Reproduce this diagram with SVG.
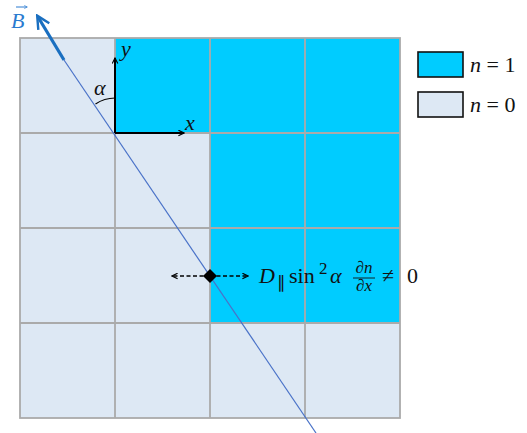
<svg xmlns="http://www.w3.org/2000/svg" width="527" height="433" viewBox="0 0 527 433">
<defs>
<style>
.c1{fill:#00ccff}
.c0{fill:#dde8f4}
.grid{stroke:#aaaaaa;stroke-width:1.8;fill:none}
.t{font-family:"Liberation Serif","Times New Roman",serif;font-size:22px;fill:#111}
.i{font-style:italic}
.s{font-size:17px}
.lg{stroke:#111;stroke-width:1.6}
</style>
<marker id="ah" viewBox="0 0 10 10" refX="9" refY="5" markerWidth="7" markerHeight="7" orient="auto" markerUnits="userSpaceOnUse"><path d="M1,1 L9,5 L1,9" fill="none" stroke="#000" stroke-width="1.6"/></marker>
<marker id="ahB" viewBox="0 0 10 10" refX="8" refY="5" markerWidth="5" markerHeight="5" orient="auto"><path d="M1,1 L9,5 L1,9" fill="none" stroke="#1a6fc0" stroke-width="1.5"/></marker>
<marker id="ahS" viewBox="0 0 10 10" refX="8" refY="5" markerWidth="4" markerHeight="4" orient="auto" markerUnits="userSpaceOnUse"><path d="M1,1 L9,5 L1,9" fill="none" stroke="#2a7bd0" stroke-width="1.5"/></marker>
</defs>
<rect width="527" height="433" fill="#fff"/>
<g id="cells">
<rect class="c0" x="20" y="38" width="95" height="95"/>
<rect class="c1" x="115" y="38" width="95" height="95"/>
<rect class="c1" x="210" y="38" width="95" height="95"/>
<rect class="c1" x="305" y="38" width="95" height="95"/>
<rect class="c0" x="20" y="133" width="95" height="95"/>
<rect class="c0" x="115" y="133" width="95" height="95"/>
<rect class="c1" x="210" y="133" width="95" height="95"/>
<rect class="c1" x="305" y="133" width="95" height="95"/>
<rect class="c0" x="20" y="228" width="95" height="95"/>
<rect class="c0" x="115" y="228" width="95" height="95"/>
<rect class="c1" x="210" y="228" width="95" height="95"/>
<rect class="c1" x="305" y="228" width="95" height="95"/>
<rect class="c0" x="20" y="323" width="380" height="95"/>
</g>
<g id="grid" class="grid">
<rect x="20" y="38" width="380" height="380"/>
<path d="M115,38V418M210,38V418M305,38V418M20,133H400M20,228H400M20,323H400"/>
</g>
<g id="connectors">
<line x1="64" y1="60" x2="316" y2="433" stroke="#4a72c8" stroke-width="1.2"/>
<line x1="64" y1="60" x2="38" y2="17" stroke="#1a6fc0" stroke-width="3.2" marker-end="url(#ahB)"/>
<line x1="115" y1="133" x2="115" y2="58" stroke="#000" stroke-width="2" marker-end="url(#ah)"/>
<line x1="115" y1="133" x2="184" y2="133" stroke="#000" stroke-width="2" marker-end="url(#ah)"/>
<path d="M115,98 A35,35 0 0 0 95.5,104" fill="none" stroke="#000" stroke-width="1.2"/>
<line x1="210" y1="276" x2="172" y2="276" stroke="#000" stroke-width="1.6" stroke-dasharray="4,2.5" marker-end="url(#ah)"/>
<line x1="210" y1="276" x2="248" y2="276" stroke="#000" stroke-width="1.6" stroke-dasharray="4,2.5" marker-end="url(#ah)"/>
<path d="M210,269 L217,276 L210,283 L203,276Z" fill="#000"/>
</g>
<g id="labels">
<text class="t i" x="11" y="28" style="fill:#2a7bd0">B</text>
<path d="M16,7 H27" stroke="#2a7bd0" stroke-width="1" marker-end="url(#ahS)"/>
<text class="t i" x="121" y="56">y</text>
<text class="t i" x="185" y="130">x</text>
<text class="t i" x="94" y="95">α</text>
<text class="t i" x="259" y="283">D</text>
<text class="t s" x="277" y="288">∥</text>
<text class="t" x="289" y="283">sin</text>
<text class="t s" x="319" y="274">2</text>
<text class="t i" x="330" y="283">α</text>
<text class="t i s" x="364" y="273" text-anchor="middle">∂n</text>
<line x1="353" y1="278" x2="375" y2="278" stroke="#111" stroke-width="0.9"/>
<text class="t i s" x="364" y="291" text-anchor="middle">∂x</text>
<text class="t" x="382" y="283">≠</text>
<text class="t" x="407" y="283">0</text>
</g>
<g id="legend-n1"><rect x="418" y="52" width="45" height="25" class="c1 lg"/><text class="t" x="470" y="72"><tspan class="i">n</tspan> = 1</text></g>
<g id="legend-n0"><rect x="418" y="92" width="45" height="25" class="c0 lg"/><text class="t" x="470" y="112"><tspan class="i">n</tspan> = 0</text></g>
</svg>
